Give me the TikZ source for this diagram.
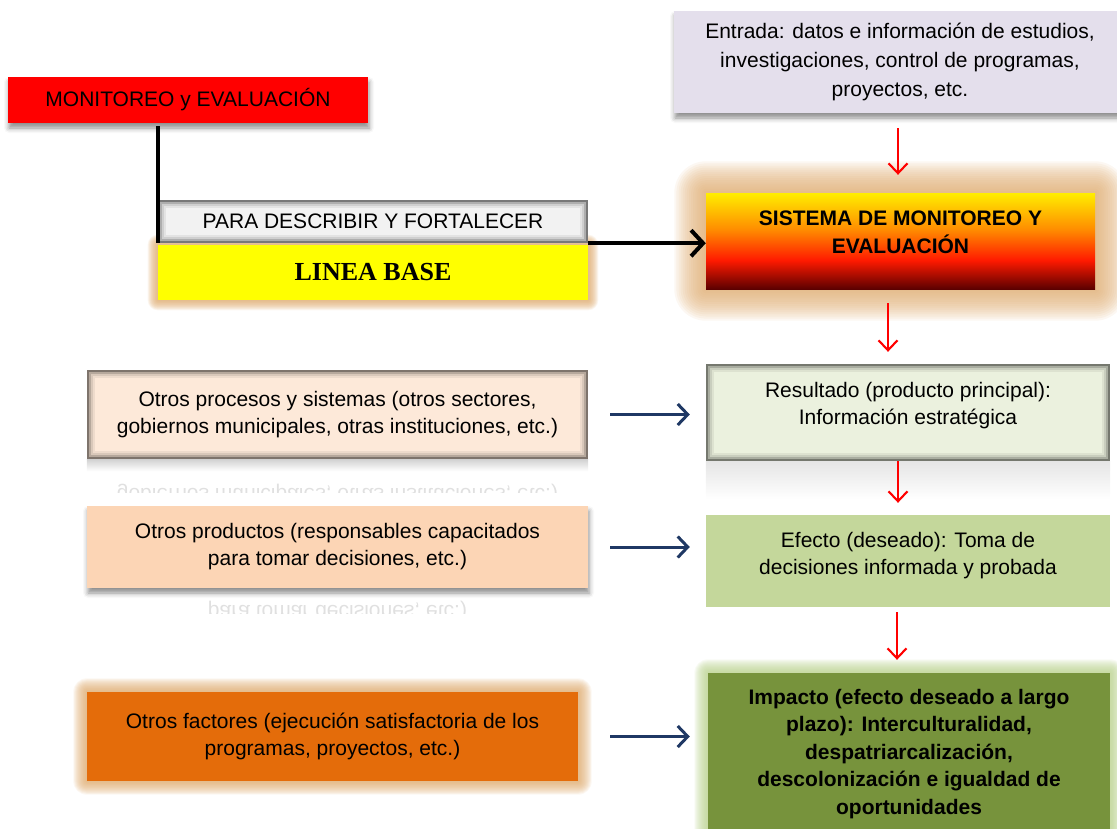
\documentclass[tikz,border=0pt]{standalone}
\usepackage{fontspec}
\setmainfont{Liberation Sans}
\newfontfamily\timesfont{Liberation Serif}
\usetikzlibrary{arrows.meta,positioning,calc,shadows.blur,backgrounds}

\definecolor{monred}{HTML}{FF0000}
\definecolor{paragray}{HTML}{F2F2F2}
\definecolor{baseyel}{HTML}{FFFF00}
\definecolor{entlila}{HTML}{E4DFEC}
\definecolor{resgreen}{HTML}{EBF1DE}
\definecolor{effgreen}{HTML}{C4D79B}
\definecolor{impgreen}{HTML}{77933C}
\definecolor{procream}{HTML}{FDE9D9}
\definecolor{prdpeach}{HTML}{FCD5B5}
\definecolor{facorange}{HTML}{E46C0A}
\definecolor{arrnavy}{HTML}{1F3864}
\definecolor{glowtan}{HTML}{DDA86A}
\definecolor{glowgreen}{HTML}{B7D08A}
\definecolor{sisdark}{HTML}{5C0000}
\definecolor{sisred}{HTML}{FF1A00}
\definecolor{sisorange}{HTML}{FF8C00}
\definecolor{sisyellow}{HTML}{FFEE00}
\pgfdeclareverticalshading{sisshade}{100bp}{color(0bp)=(sisdark); color(25bp)=(sisdark); color(40bp)=(sisred); color(56bp)=(sisorange); color(75bp)=(sisyellow); color(100bp)=(sisyellow)}

% lines of a node, lifted a little
\newcommand{\liftlines}[3]{\raisebox{#1}[\height][\depth]{\parbox{#2}{\centering #3}}}

\tikzset{
  box/.style={rectangle, inner sep=0pt, align=center, font=\fontsize{21}{27}\selectfont},
  redarr/.style={-{Straight Barb[length=10pt,width=19pt]}, red, line width=2.1pt},
  navyarr/.style={-{Straight Barb[length=10pt,width=21pt]}, arrnavy, line width=3pt},
  dropshadow/.style={blur shadow={shadow xshift=1pt, shadow yshift=-5pt, shadow blur radius=5pt, shadow opacity=45}},
  reflect/.style={box, yscale=-1, transform shape, opacity=0.12},
}

\begin{document}
\begin{tikzpicture}[x=1pt, y=-1pt]
  \useasboundingbox (0,0) rectangle (1117,828);

  % left column
  \node[box, fill=monred, minimum width=360pt, minimum height=46pt, dropshadow] (mon) at (188,100) {MONITOREO y EVALUACIÓN};
  \node[box, fill=paragray, minimum width=430pt, minimum height=43pt] (para) at (373,221.5) {PARA DESCRIBIR Y FORTALECER};
  \node[box, fill=baseyel, minimum width=430pt, minimum height=55pt,
        font=\timesfont\bfseries\fontsize{26}{30}\selectfont] (base) at (373,272.5) {LINEA BASE};
  \node[box, fill=procream, minimum width=501pt, minimum height=89pt] (pro) at (337.5,414.5)
    {Otros procesos y sistemas (otros sectores,\\gobiernos municipales, otras instituciones, etc.)};
  \node[box, fill=prdpeach, minimum width=501pt, minimum height=82pt, dropshadow] (prd) at (337.5,547)
    {Otros productos (responsables capacitados\\para tomar decisiones, etc.)};
  \node[box, fill=facorange, minimum width=491pt, minimum height=89pt] (fac) at (332.5,736.5)
    {Otros factores (ejecución satisfactoria de los\\programas, proyectos, etc.)};

  % right column
  \node[box, fill=entlila, minimum width=452pt, minimum height=102pt, dropshadow,
        font=\fontsize{21}{29}\selectfont] (ent) at (900,62)
    {Entrada: datos e información de estudios,\\investigaciones, control de programas,\\proyectos, etc.};
  \node[box, shading=sisshade, minimum width=389pt, minimum height=96pt,
        font=\bfseries\fontsize{21}{28}\selectfont] (sis) at (900.5,241)
    {\liftlines{9pt}{380pt}{SISTEMA DE MONITOREO Y\\EVALUACIÓN}};
  \node[box, fill=resgreen, minimum width=404pt, minimum height=97pt] (res) at (908,412.5)
    {\liftlines{7pt}{390pt}{Resultado (producto principal):\\Información estratégica}};
  \node[box, fill=effgreen, minimum width=404pt, minimum height=92pt] (eff) at (908,561)
    {\liftlines{5pt}{390pt}{Efecto (deseado): Toma de\\decisiones informada y probada}};
  \node[box, fill=impgreen, minimum width=402pt, minimum height=162pt,
        font=\bfseries\fontsize{21}{27.5}\selectfont] (imp) at (909,754)
    {Impacto (efecto deseado a largo\\plazo): Interculturalidad,\\despatriarcalización,\\descolonización e igualdad de\\oportunidades};

  % glows
  \begin{scope}[on background layer]
    \foreach \nd/\gc/\gs in {base/glowtan/0.45, sis/glowtan/1.4, fac/glowtan/0.6, imp/glowgreen/0.6}
      \foreach \r in {1.5,3,...,22.5}{
        \pgfmathsetmacro\rr{\r*\gs}
        \fill[\gc, opacity=0.09, rounded corners=\rr pt] ([shift={(-\rr pt,-\rr pt)}]\nd.south west) rectangle ([shift={(\rr pt,\rr pt)}]\nd.north east);
      }
  \end{scope}

  % inner shadows
  \foreach \nd in {para,pro,res}
    \foreach \i/\o in {1/0.5,3/0.28,5/0.14,7/0.06}
      \draw[black, line width=2pt, opacity=\o] ([shift={(\i pt,\i pt)}]\nd.south west) rectangle ([shift={(-\i pt,-\i pt)}]\nd.north east);

  % reflections
  \shade[top color=black!18, bottom color=white] (pro.south west) rectangle ($(pro.south east)+(0,12)$);
  \shade[top color=black!10, bottom color=white] (res.south west) rectangle ($(res.south east)+(0,38)$);
  \begin{scope}
    \clip (87,460) rectangle (588,492);
    \node[reflect] (proref) at (337.5,494) {gobiernos municipales, otras instituciones, etc.)};
  \end{scope}
  \begin{scope}
    \clip (87,590) rectangle (588,613);
    \node[reflect] (prdref) at (337.5,611) {para tomar decisiones, etc.)};
  \end{scope}

  % connectors
  \draw[line width=4pt, shorten <=3pt] (para.south west |- mon.south) -- (para.south west);
  \draw[line width=4pt, -{Straight Barb[length=12pt,width=26pt]}] (para.south east) -- (para.south east -| sis.west);

  \draw[redarr, shorten <=15pt, shorten >=18pt] ([xshift=-2pt]ent.south) -- ([xshift=-2pt]ent.south |- sis.north);
  \draw[redarr, shorten <=14pt, shorten >=12pt] ([xshift=-12.5pt]sis.south) -- ([xshift=-12.5pt]sis.south |- res.north);
  \draw[redarr, shorten >=12pt] ([xshift=-10pt]res.south) -- ([xshift=-10pt]res.south |- eff.north);
  \draw[redarr, shorten <=5pt, shorten >=13pt] ([xshift=-11pt]eff.south) -- ([xshift=-11pt]eff.south |- imp.north);

  \draw[navyarr, shorten <=22pt, shorten >=16pt] (pro.east) -- (pro.east -| res.west);
  \draw[navyarr, shorten <=22pt, shorten >=16pt] (prd.east) -- (prd.east -| eff.west);
  \draw[navyarr, shorten <=32pt, shorten >=18pt] (fac.east) -- (fac.east -| imp.west);
\end{tikzpicture}
\end{document}
